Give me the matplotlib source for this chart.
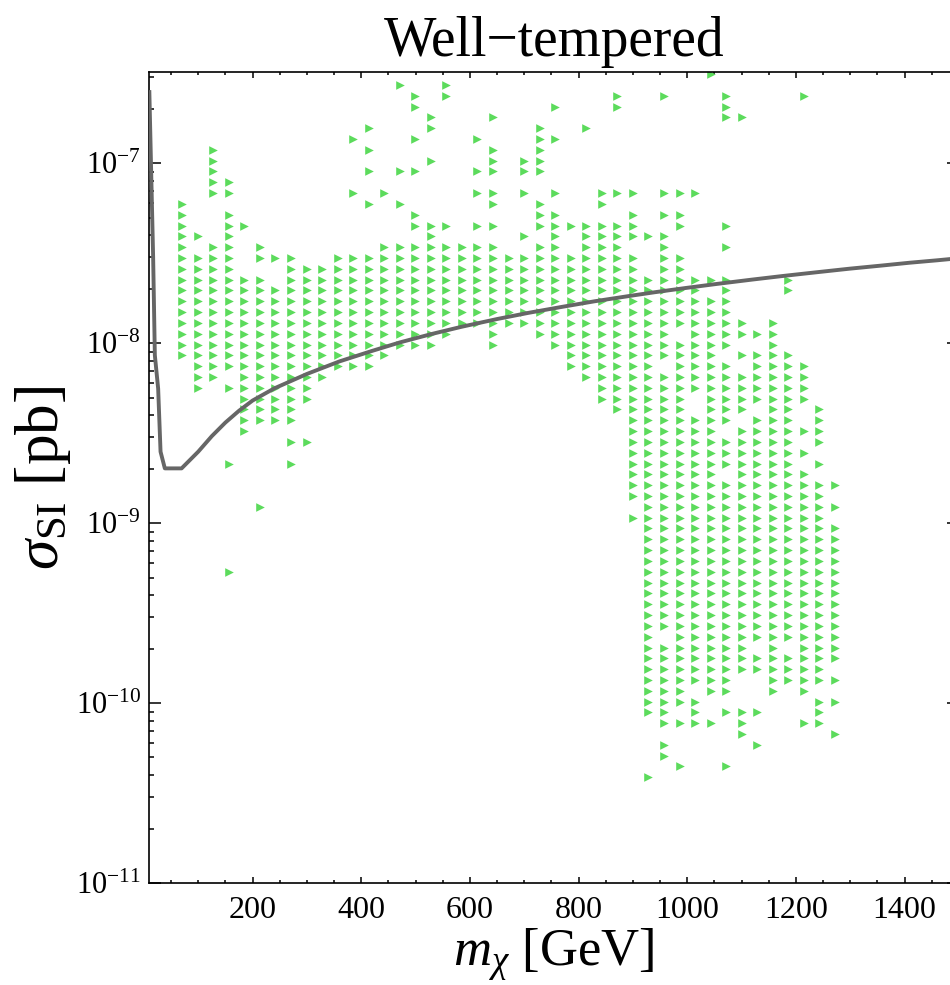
import numpy as np
import matplotlib
matplotlib.use("Agg")
import matplotlib.pyplot as plt
from matplotlib.ticker import FixedLocator, NullFormatter

plt.rcParams["font.family"] = ["Liberation Serif", "DejaVu Serif"]
plt.rcParams["mathtext.fontset"] = "custom"
plt.rcParams["mathtext.rm"] = "Liberation Serif"
plt.rcParams["mathtext.it"] = "Liberation Serif:italic"
plt.rcParams["mathtext.bf"] = "Liberation Serif:bold"

# Neutralino masses of the scan columns [GeV]
mass_cols = [70.5, 99.1, 127.7, 156.3, 184.9, 213.5, 242.1, 270.7, 299.3, 327.9,
             356.5, 385.1, 413.7, 442.3, 470.9, 499.5, 528.1, 556.7, 585.3, 613.9,
             642.5, 671.1, 699.7, 728.3, 756.9, 785.5, 814.1, 842.7, 871.3, 899.9,
             928.5, 957.1, 985.7, 1014.3, 1042.9, 1071.5, 1100.1, 1128.7, 1157.3,
             1185.9, 1214.5, 1243.1, 1271.7]

# log10 of sigma_SI [pb] for the scan rows, top to bottom
log_sigma_rows = [-6.504, -6.564, -6.624, -6.685, -6.745, -6.805, -6.865, -6.925,
                  -6.985, -7.045, -7.105, -7.165, -7.225, -7.285, -7.346, -7.406,
                  -7.466, -7.526, -7.586, -7.646, -7.706, -7.766, -7.826, -7.887,
                  -7.947, -8.007, -8.067, -8.127, -8.187, -8.247, -8.307, -8.367,
                  -8.428, -8.488, -8.548, -8.608, -8.668, -8.728, -8.788, -8.848,
                  -8.908, -8.968, -9.028, -9.089, -9.149, -9.209, -9.269, -9.329,
                  -9.389, -9.449, -9.509, -9.569, -9.630, -9.690, -9.750, -9.810,
                  -9.870, -9.930, -9.990, -10.050, -10.110, -10.171, -10.231,
                  -10.291, -10.351, -10.411]

# Mass columns hit by well-tempered points, one entry per sigma row
row_hits = [
    "34", "14,17", "15,17,28,31,35,40", "15,24,28,35", "16,20,35,36",
    "12,16,23,26", "11,15,19,23,24", "2,12,20,23", "2,16,20,22,23",
    "2,12,14,15,19,20,22,23", "2,3", "2,3,11,13,19,20,22,24,27-29,31-33",
    "0,12,14,20,23,27", "0,3,15,23,24,29,31,32",
    "0,3,4,15-17,19,20,23-29,32,35", "0,1,3,16,22,24,26-31",
    "0,2,3,5,13-20,23,24,26-28,31,35",
    "0-3,5-7,10-29,31,32", "0-3,7-29,31,32", "0-5,7-35,39", "0-33,35,39",
    "0-35", "0-35", "0-36,38", "0-17,20,23-31,33-38", "0-16,20,24-35,38",
    "0-13,25-34,36-39", "1-12,25-30,32-35,37-40", "1,2,4-9,26-40",
    "1,3-8,27-40", "4-8,27-32,34-40", "4-7,28-32,34-36,38,39,41",
    "4-7,29-35,37-39,41", "4,29-34,36-41", "7,8,29-39,41", "29-40",
    "3,7,29-39,41", "29-34,36-40", "29-42", "29-41", "5,30-42", "29-41",
    "30-42", "30-42", "30-42", "30-42", "3,30-42", "30-42", "30-42", "30-42",
    "30-42", "30-42", "30,32-42", "30-36,38,40-42", "30-42", "30-41",
    "30-35,38-42", "30-32,34,35,38,40", "30-33,41,42", "30,31,33,35-37,41",
    "31-34,36,40,41", "36,42", "31,37", "31", "32,35", "30",
]

# Direct-detection exclusion limit
limit_mass = [10.1, 13.8, 17.1, 20.2, 26.3, 30.7, 38.6, 69.4, 100.0, 125.0,
              150.0, 175.0, 200.0, 240.0, 300.0, 360.0, 420.0, 471.0, 530.0,
              584.5, 650.0, 707.0, 770.0, 830.0, 900.0, 940.0, 1000.0, 1054.0,
              1120.0, 1176.0, 1240.0, 1299.0, 1360.0, 1409.0, 1460.0, 1500.0]
limit_sigma = [2.49e-7, 8.07e-8, 2.98e-8, 8.6e-9, 5.6e-9, 2.5e-9, 2.02e-9, 2.02e-9,
               2.50e-9, 3.05e-9, 3.63e-9, 4.22e-9, 4.81e-9, 5.62e-9, 6.76e-9,
               7.94e-9, 9.08e-9, 1.012e-8, 1.128e-8, 1.236e-8, 1.365e-8,
               1.476e-8, 1.596e-8, 1.714e-8, 1.846e-8, 1.923e-8, 2.036e-8,
               2.138e-8, 2.262e-8, 2.368e-8, 2.487e-8, 2.600e-8, 2.710e-8,
               2.805e-8, 2.894e-8, 2.972e-8]


def parse_cols(spec):
    cols = []
    for part in spec.split(","):
        if "-" in part:
            a, b = part.split("-")
            cols.extend(range(int(a), int(b) + 1))
        else:
            cols.append(int(part))
    return cols


xs, ys = [], []
for lg, spec in zip(log_sigma_rows, row_hits):
    for c in parse_cols(spec):
        xs.append(mass_cols[c])
        ys.append(10.0 ** lg)

W, H = 950, 985
fig = plt.figure(figsize=(W / 100, H / 100), dpi=100)
left, right, top, bottom = 149.3, 959.0, 72.3, 883.3
ax = fig.add_axes([left / W, 1 - bottom / H, (right - left) / W, (bottom - top) / H])

ax.scatter(xs, ys, marker=">", s=6.2 ** 2, color="#5cdb5c", linewidths=0, zorder=2)
ax.plot(limit_mass, limit_sigma, color="#666666", lw=2.8, zorder=3,
        solid_joinstyle="round")

ax.set_yscale("log")
ax.set_xlim(10, 1500)
ax.set_ylim(1e-11, 10 ** -6.494)

ax.xaxis.set_major_locator(FixedLocator([200, 400, 600, 800, 1000, 1200, 1400]))
ax.xaxis.set_minor_locator(FixedLocator(np.arange(50, 1500, 50)))
ax.set_xticklabels(["200", "400", "600", "800", "1000", "1200", "1400"])

majors = [1e-11, 1e-10, 1e-9, 1e-8, 1e-7]
ax.yaxis.set_major_locator(FixedLocator(majors))
ax.set_yticklabels([r"$10^{-11}$", r"$10^{-10}$", r"$10^{-9}$", r"$10^{-8}$", r"$10^{-7}$"])
minors = [m * 10.0 ** e for e in range(-11, -6) for m in range(2, 10)]
ax.yaxis.set_minor_locator(FixedLocator(minors))
ax.yaxis.set_minor_formatter(NullFormatter())

ax.tick_params(axis="both", which="both", direction="in", top=True, right=True,
               width=1.1, colors="black")
ax.tick_params(axis="x", which="major", length=4.3, labelsize=23, pad=9)
ax.tick_params(axis="x", which="minor", length=2.2)
ax.tick_params(axis="y", which="major", length=8.6, labelsize=22, pad=6)
ax.tick_params(axis="y", which="minor", length=3.6)

for sp in ax.spines.values():
    sp.set_linewidth(1.2)

ax.set_title("Well\u2212tempered", fontsize=40, pad=12)
ax.set_xlabel(r"$m_{\chi}$ [GeV]", fontsize=38, labelpad=1)
ax.set_ylabel(r"$\sigma_{\mathrm{SI}}$ [pb]", fontsize=44, labelpad=2)

fig.savefig("out.png", dpi=100)
